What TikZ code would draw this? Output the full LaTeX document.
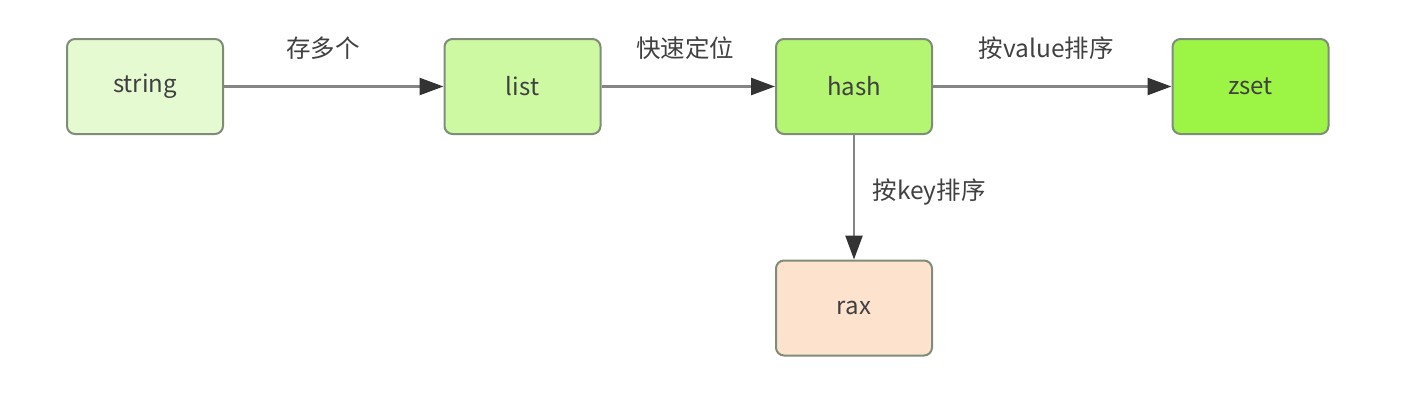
\documentclass[tikz,border=0pt]{standalone}
\usepackage{fontspec}
\setmainfont{Noto Sans CJK SC}
\usepackage{xcolor}
\usetikzlibrary{positioning,arrows.meta}
\definecolor{cstring}{HTML}{E6FAD2}
\definecolor{clist}{HTML}{CDF9A2}
\definecolor{chash}{HTML}{B4F572}
\definecolor{czset}{HTML}{9CF545}
\definecolor{crax}{HTML}{FDE3CE}
\definecolor{cedge}{HTML}{7E8C78}
\definecolor{cline}{HTML}{858585}
\definecolor{chead}{HTML}{333333}
\begin{document}
\begin{tikzpicture}[x=1pt, y=-1pt,
  >={Triangle[length=24pt, width=17pt, color=chead]},
  box/.style={draw=cedge, line width=2pt, rounded corners=8pt,
    minimum width=156pt, minimum height=95pt, inner sep=0pt,
    font=\fontsize{24}{28}\selectfont, text=black!75},
  link/.style={->, draw=cline, line width=2.5pt},
  tip/.style={font=\fontsize{24.5}{28}\selectfont, text=black!75}]
  \useasboundingbox (0,0) rectangle (1417,402);
  \node[box, fill=cstring] (string) at (145,86.5)  {string};
  \node[box, fill=clist]   (list)   at (522.5,86.5) {list};
  \node[box, fill=chash]   (hash)   at (854,86.5)  {hash};
  \node[box, fill=czset]   (zset)   at (1250.5,86.5) {zset};
  \node[box, fill=crax]    (rax)    at (854,308)   {rax};
  \draw[link] (string) -- (list) node[tip, midway, yshift=38.5pt, xshift=-11pt] {存多个};
  \draw[link] (list) -- (hash) node[tip, midway, yshift=38.5pt, xshift=-3pt] {快速定位};
  \draw[link] (hash) -- (zset) node[tip, midway, yshift=38.5pt, xshift=-6pt] {按value排序};
  \draw[link] (hash) -- (rax) node[tip, midway, anchor=west, xshift=14pt, yshift=5.5pt] {按key排序};
\end{tikzpicture}
\end{document}
